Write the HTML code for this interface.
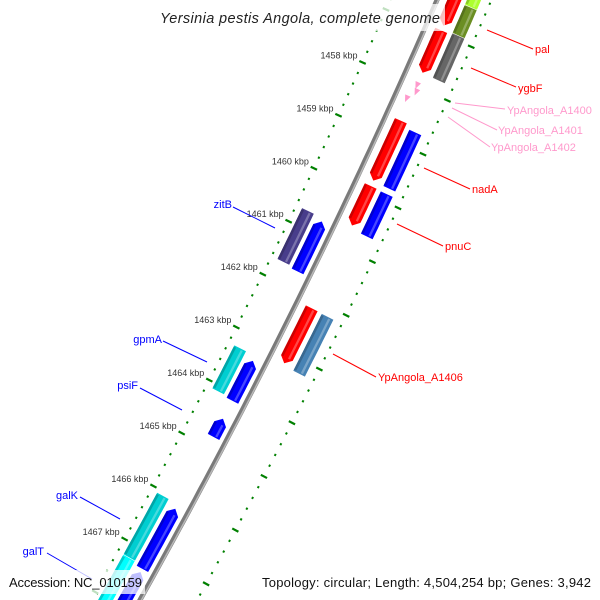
<!DOCTYPE html>
<html><head><meta charset="utf-8"><style>
html,body{margin:0;padding:0;background:#fff;overflow:hidden;width:600px;height:600px;}
svg{display:block;font-family:"Liberation Sans",sans-serif;overflow:hidden;}
</style></head><body>
<svg id="map" width="600" height="600" viewBox="0 0 600 600">
<g id="ticks"></g>
<g id="feats"></g>
<g id="backbone"></g>
<g id="labels"></g>
<rect x="155" y="4" width="290" height="27" fill="#fff" opacity="0.75"/>
<text x="160" y="23" font-size="14.5" font-style="italic" fill="#222" textLength="280" lengthAdjust="spacing">Yersinia pestis Angola, complete genome</text>
<rect x="5" y="570" width="140" height="24" fill="#fff" opacity="0.75"/>
<text x="9" y="587" font-size="13" fill="#111" textLength="133" lengthAdjust="spacing">Accession: NC_010159</text>
<rect x="258" y="570" width="338" height="24" fill="#fff" opacity="0.75"/>
<text x="262" y="587" font-size="13" fill="#111" textLength="329" lengthAdjust="spacing">Topology: circular; Length: 4,504,254 bp; Genes: 3,942</text>
</svg>
<script>
const NS="http://www.w3.org/2000/svg";
// data
const tickKbp=[1458,1459,1460,1461,1462,1463,1464,1465,1466,1467];
const featNames=["feat-a","feat-b","feat-c","feat-d","feat-e","YpAngola_A1400","YpAngola_A1401","YpAngola_A1402","nadA","nadA-partner","pnuC","pnuC-partner","YpAngola_A1406","YpAngola_A1406-partner","zitB","zitB-partner","gpmA","gpmA-partner","psiF","galK","galK-partner","galT","galT-partner"];
const featStart=[1455.4,1456.95,1455.4,1456.39,1456.92,1457.92,1458.03,1458.2,1458.64,1458.72,1459.86,1459.87,1462.15,1462.16,1460.7,1460.76,1463.29,1463.38,1464.47,1466.07,1466.16,1467.24,1467.35];
const featEnd=[1456.86,1457.74,1456.38,1456.91,1457.75,1458.04,1458.15,1458.32,1459.76,1459.77,1460.6,1460.66,1463.18,1463.22,1461.66,1461.7,1464.1,1464.13,1464.81,1467.23,1467.29,1468.6,1468.6];
const featLane=[16,16,34,34,34,16,18,12,16,34,16,34,16,34,-30,-13,-30,-13,-13,-30,-13,-30,-13];
const featColor=["#ff0000","#ff0000","#adff2f","#6b8e23","#666666","#ff99cc","#ff99cc","#ff99cc","#ff0000","#0000ff","#ff0000","#0000ff","#ff0000","#4682b4","#483d8b","#0000ff","#00ced1","#0000ff","#0000ff","#00ced1","#0000ff","#00ffff","#0000ff"];
const featArrow=["down","down","none","none","none","tri","tri","tri","down","none","down","none","down","none","none","up","none","up","up","none","up","none","up"];
const featWidth=[13,13,13,13,13,6,6,6,13,13,13,13,13,13,13,13,13,13,13,13,13,13,13];

function bx(y){return 437-0.4317*y-0.0001056*y*y;}
function yb(k){return 80+(k-1458)*53.3;}
function pt(k,d){const y=yb(k);const dx=-0.4317-0.0002112*y;const L=Math.hypot(dx,1);return [bx(y)+d/L, y-d*dx/L];}
function mk(tag,attrs,parent){const e=document.createElementNS(NS,tag);for(const a in attrs)e.setAttribute(a,attrs[a]);parent.appendChild(e);return e;}

// backbone
const bb=document.getElementById('backbone');
let bp=[];for(let y=-20;y<=620;y+=10)bp.push(bx(y).toFixed(1)+","+y);
const bl=mk('polyline',{points:bp.join(" "),fill:"none",stroke:"#7a7a7a","stroke-width":5},bb);


let bp2=[];for(let y=-20;y<=620;y+=10)bp2.push((bx(y)+1.5).toFixed(1)+","+y);
const bl2=mk('polyline',{points:bp2.join(" "),fill:"none",stroke:"#b8b8b8","stroke-width":1.5},bb);



// ticks
const tg=document.getElementById('ticks');
for(const ring of [-43,50]){
  for(let i=Math.round(1455.4*5);i<=Math.round(1468.8*5);i++){
    const k=i/5;const major=(i%5===0);
    const a=pt(k,ring-(major?3.5:1)),b=pt(k,ring+(major?3.5:1));
    const l=mk('line',{x1:a[0],y1:a[1],x2:b[0],y2:b[1],stroke:"#008000","stroke-width":2.2},tg);
    
    
  }
}
tickKbp.forEach(k=>{const p=pt(k,-43);
  const t=mk('text',{x:p[0]-5,y:p[1]-4,"text-anchor":"end","font-size":9,fill:"#333"},tg);
  t.textContent=k+" kbp";
  
  });

// features
const fg=document.getElementById('feats');
function shade(c,f){const n=parseInt(c.slice(1),16);let r=n>>16,g=(n>>8)&255,b=n&255;
  const m=v=>Math.round(f>0?v+(255-v)*f:v*(1+f));return "rgb("+m(r)+","+m(g)+","+m(b)+")";}
featNames.forEach((nm,i)=>{
  const s=featStart[i],e=featEnd[i],d=featLane[i],w=featWidth[i]/2,ar=featArrow[i];
  const head=0.1;let pts=[];
  if(ar==="tri"){const a=pt(s,d-w),b=pt(s,d+w),c=pt(e,d);pts=[a,b,c];}
  else{
    let k1=s,k2=e;if(ar==="down")k2=e-head;if(ar==="up")k1=s+head;
    const L=[],R=[];const n=8;
    for(let j=0;j<=n;j++){const k=k1+(k2-k1)*j/n;L.push(pt(k,d-w));R.push(pt(k,d+w));}
    pts=L.slice();
    if(ar==="down")pts.push(pt(e,d));
    pts=pts.concat(R.reverse());
    if(ar==="up")pts.push(pt(s,d));
  }
  const p=mk('polygon',{points:pts.map(q=>q[0].toFixed(1)+","+q[1].toFixed(1)).join(" "),fill:featColor[i]},fg);
  
  
  if(ar!=="tri"){
    let k1=s+(ar==="up"?head:0.02),k2=e-(ar==="down"?head:0.02);
    const L=[],R=[];for(let j=0;j<=6;j++){const k=k1+(k2-k1)*j/6;L.push(pt(k,d+w*0.2));R.push(pt(k,d+w*0.55));}
    const h=mk('polygon',{points:L.concat(R.reverse()).map(q=>q[0].toFixed(1)+","+q[1].toFixed(1)).join(" "),fill:shade(featColor[i],0.35),opacity:0.8},fg);
    
    
    const L2=[],R2=[];for(let j=0;j<=6;j++){const k=k1+(k2-k1)*j/6;L2.push(pt(k,d-w));R2.push(pt(k,d-w*0.6));}
    const sh=mk('polygon',{points:L2.concat(R2.reverse()).map(q=>q[0].toFixed(1)+","+q[1].toFixed(1)).join(" "),fill:shade(featColor[i],-0.2)},fg);
    
    
  }
});

// labels
const lg=document.getElementById('labels');
const labText=["pal","ygbF","YpAngola_A1400","YpAngola_A1401","YpAngola_A1402","nadA","pnuC","YpAngola_A1406","zitB","gpmA","psiF","galK","galT"];
const labColor=["#ff0000","#ff0000","#ff99cc","#ff99cc","#ff99cc","#ff0000","#ff0000","#ff0000","#0000ff","#0000ff","#0000ff","#0000ff","#0000ff"];
const labLine=[[487,30,533,49],[471,68,516,87],[455,103,505,109],[452,108,497,130],[448,117,490,147],[424,168,470,189],[397,224,443,246],[333,354,376,377],[233,207,275,228],[163,341,207,362],[140,388,182,410],[80,497,120,519],[47,553,92,579]];
const labPos=[[535,53,"start"],[518,92,"start"],[507,114,"start"],[498,134,"start"],[491,151,"start"],[472,193,"start"],[445,250,"start"],[378,381,"start"],[232,208,"end"],[162,343,"end"],[138,389,"end"],[78,499,"end"],[44,555,"end"]];
labText.forEach((t,i)=>{
  const q=labLine[i];
  const l=mk('line',{x1:q[0],y1:q[1],x2:q[2],y2:q[3],stroke:labColor[i],"stroke-width":1},lg);
  
  
  const p=labPos[i];
  const tx=mk('text',{x:p[0],y:p[1],"text-anchor":p[2],"font-size":11,fill:labColor[i]},lg);
  tx.textContent=t;
  
  
});
</script>
</body></html>
